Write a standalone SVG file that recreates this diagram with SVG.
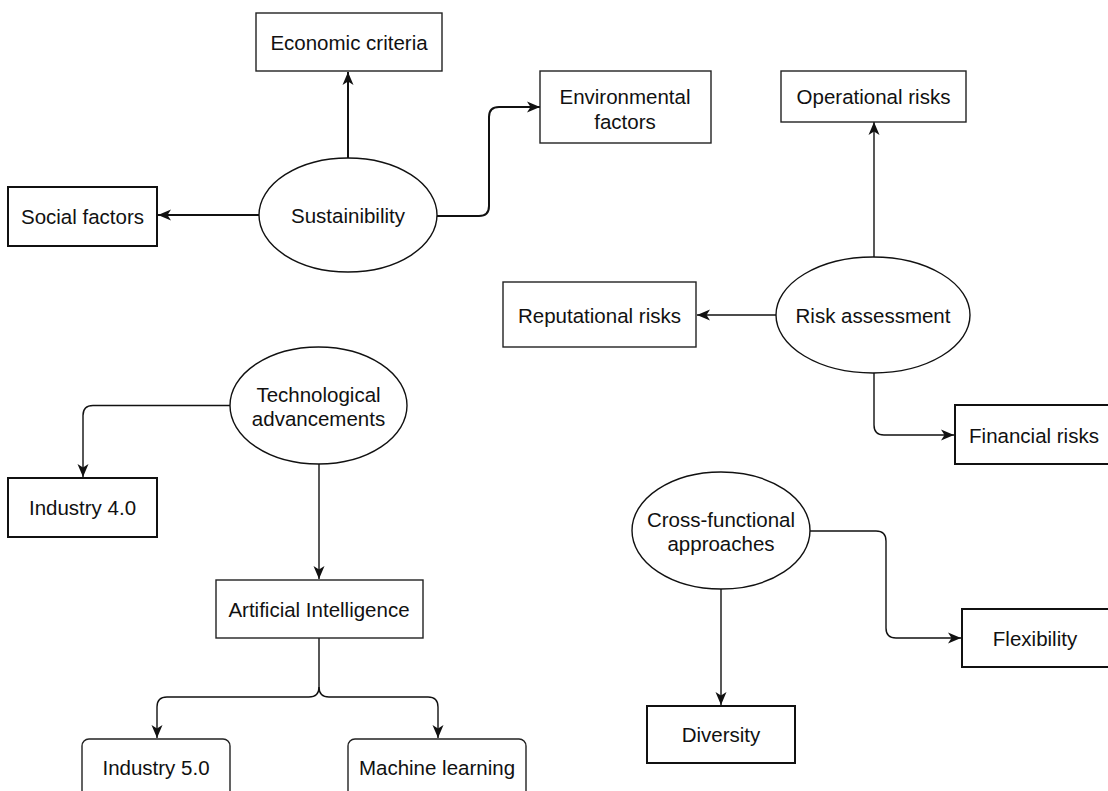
<svg xmlns="http://www.w3.org/2000/svg" width="1108" height="791" viewBox="0 0 1108 791">
<style>
.box{fill:#fff;stroke:#222;stroke-width:1.4}
.thick{stroke:#111;stroke-width:2}
.ell{fill:#fff;stroke:#111;stroke-width:1.4}
.lbl{font-family:"Liberation Sans",Arial,sans-serif;font-size:20.5px;fill:#111;text-anchor:middle;dominant-baseline:central}
.con{fill:none;stroke:#111;stroke-width:1.4;marker-end:url(#arr)}
.con2{fill:none;stroke:#111;stroke-width:2;marker-end:url(#arr)}
</style>
<defs>
<marker id="arr" markerUnits="userSpaceOnUse" markerWidth="14" markerHeight="14" refX="13" refY="7" orient="auto">
<path d="M0,1.5 L13,7 L0,12.5 L3.5,7 Z" fill="#111"/>
</marker>
</defs>
<rect width="1108" height="791" fill="#fff"/>
<g id="connectors">
<path class="con2" d="M348,158 L348,72"/>
<path class="con2" d="M259,215 L158,215"/>
<path class="con2" d="M437,216 L479,216 Q489,216 489,206 L489,117 Q489,107 499,107 L540,107"/>
<path class="con" d="M874,257 L874,122"/>
<path class="con" d="M777,315 L697,315"/>
<path class="con" d="M874,373 L874,425 Q874,435 884,435 L954,435"/>
<path class="con" d="M230,405.5 L93,405.5 Q83,405.5 83,415.5 L83,477"/>
<path class="con" d="M319,464 L319,579"/>
<path class="con" d="M319,638 L319,687 Q319,697 309,697 L167,697 Q157,697 157,707 L157,738"/>
<path class="con" d="M319,687 Q319,697 329,697 L428,697 Q438,697 438,707 L438,738"/>
<path class="con" d="M810,531 L876,531 Q886,531 886,541 L886,628 Q886,638 896,638 L961,638"/>
<path class="con" d="M721,589 L721,705"/>
</g>
<g id="economic"><rect class="box" x="256" y="13" width="186" height="58"/><text class="lbl" x="349" y="42">Economic criteria</text></g>
<g id="social"><rect class="box thick" x="8" y="187" width="149" height="59"/><text class="lbl" x="82.5" y="216.5">Social factors</text></g>
<g id="sustainability"><ellipse class="ell" cx="348" cy="215" rx="89" ry="57"/><text class="lbl" x="348" y="215">Sustainibility</text></g>
<g id="environmental"><rect class="box" x="540" y="71" width="171" height="72"/><text class="lbl" x="625" y="96">Environmental</text><text class="lbl" x="625" y="121">factors</text></g>
<g id="operational"><rect class="box" x="781" y="71" width="185" height="51"/><text class="lbl" x="873.5" y="96">Operational risks</text></g>
<g id="risk"><ellipse class="ell" cx="873" cy="315" rx="97" ry="58"/><text class="lbl" x="873" y="315">Risk assessment</text></g>
<g id="reputational"><rect class="box" x="503" y="282" width="193" height="65"/><text class="lbl" x="599.5" y="315">Reputational risks</text></g>
<g id="financial"><rect class="box thick" x="955" y="405" width="160" height="59"/><text class="lbl" x="1034" y="435">Financial risks</text></g>
<g id="technological"><ellipse class="ell" cx="318.5" cy="405.5" rx="88.5" ry="58.5"/><text class="lbl" x="318.5" y="394">Technological</text><text class="lbl" x="318.5" y="418">advancements</text></g>
<g id="industry40"><rect class="box thick" x="8" y="478" width="149" height="59"/><text class="lbl" x="82.5" y="507.5">Industry 4.0</text></g>
<g id="ai"><rect class="box" x="216" y="580" width="207" height="58"/><text class="lbl" x="319" y="609">Artificial Intelligence</text></g>
<g id="industry50"><rect class="box" x="82" y="739" width="148" height="60" rx="7"/><text class="lbl" x="156" y="767">Industry 5.0</text></g>
<g id="ml"><rect class="box" x="348" y="739" width="178" height="60" rx="7"/><text class="lbl" x="437" y="767">Machine learning</text></g>
<g id="crossfunctional"><ellipse class="ell" cx="721" cy="530.5" rx="89" ry="58.5"/><text class="lbl" x="721" y="519">Cross-functional</text><text class="lbl" x="721" y="543">approaches</text></g>
<g id="flexibility"><rect class="box thick" x="962" y="609" width="155" height="58"/><text class="lbl" x="1035" y="638">Flexibility</text></g>
<g id="diversity"><rect class="box thick" x="647" y="706" width="148" height="57"/><text class="lbl" x="721" y="734.5">Diversity</text></g>
</svg>
